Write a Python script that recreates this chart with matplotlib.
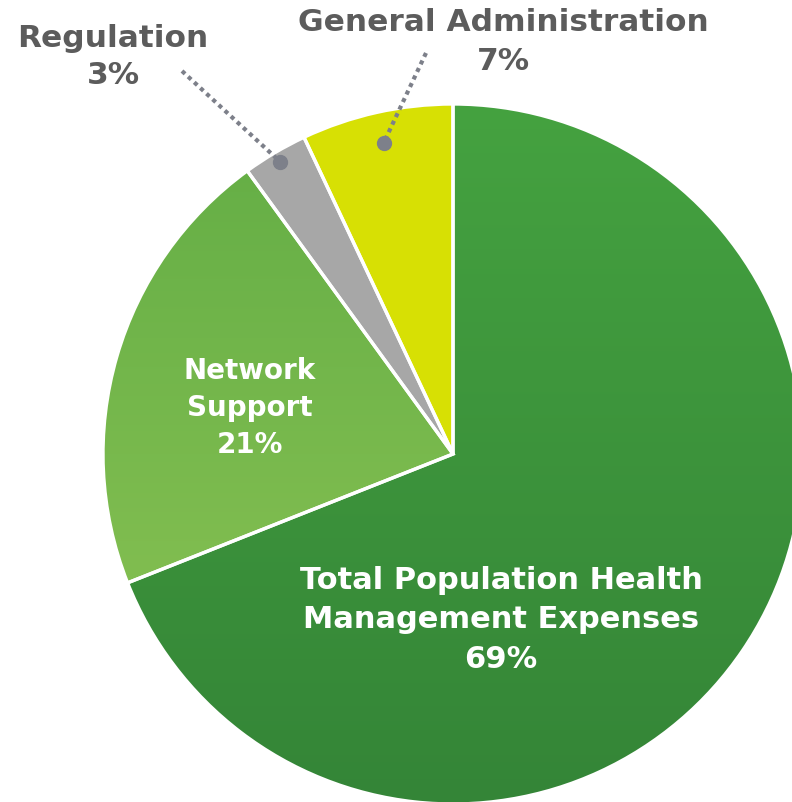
"""
Expense breakdown pie chart: population health management vs overhead.
"""

import numpy as np
import matplotlib.pyplot as plt
from matplotlib.colors import LinearSegmentedColormap

W, H = 792, 803

categories = ["Total Population Health\nManagement Expenses", "Network\nSupport",
              "Regulation", "General Administration"]
shares = [69, 21, 3, 7]
pct_labels = ["69%", "21%", "3%", "7%"]
base_colors = ["#3e963c", "#78b94e", "#a7a7a7", "#d7e004"]
# vertical gradients (top colour, bottom colour) for the two green slices
gradients = {0: ("#45a240", "#348537"), 1: ("#62ad45", "#8fc555")}

CX, CY, R = 453, H - 455, 350
TEXT_GREY = "#5c5c5c"
LEADER = "#7d808a"

plt.rcParams["font.family"] = ["DejaVu Sans"]

fig = plt.figure(figsize=(W / 100, H / 100), dpi=100)
ax = fig.add_axes([0, 0, 1, 1])

wedges, _ = ax.pie(shares, colors=base_colors, startangle=90, counterclock=False,
                   radius=R, center=(CX, CY),
                   wedgeprops=dict(linewidth=0, edgecolor="white"))

# gradient fills clipped to the green wedges
for i, (top, bottom) in gradients.items():
    cmap = LinearSegmentedColormap.from_list(f"g{i}", [bottom, top])
    grad = np.linspace(0, 1, 256).reshape(-1, 1)
    im = ax.imshow(grad, cmap=cmap, origin="lower", aspect="auto",
                   extent=(CX - R, CX + R, CY - R, CY + R), zorder=2)
    im.set_clip_path(wedges[i])

# white separators on top
ax.pie(shares, startangle=90, counterclock=False, radius=R, center=(CX, CY),
       wedgeprops=dict(fill=False, linewidth=2.4, edgecolor="white", zorder=3))

ax.set_xlim(0, W)
ax.set_ylim(0, H)
ax.set_aspect("equal")
ax.axis("off")

# labels inside the slices
ax.text(501, H - 620, f"{categories[0]}\n{pct_labels[0]}", ha="center", va="center",
        color="white", fontsize=22, fontweight="bold", linespacing=1.45, zorder=4)
ax.text(250, H - 408, f"{categories[1]}\n{pct_labels[1]}", ha="center", va="center",
        color="white", fontsize=20, fontweight="bold", linespacing=1.42, zorder=4)

# outside labels with dotted leaders
outside = [(2, (113, H - 57), (182, H - 72), 0.97, 1.36),
           (3, (503, H - 42), (426, H - 54), 0.91, 1.43)]
for idx, text_xy, line_start, frac, spacing in outside:
    w = wedges[idx]
    mid = np.deg2rad((w.theta1 + w.theta2) / 2)
    px, py = CX + frac * R * np.cos(mid), CY + frac * R * np.sin(mid)
    ax.text(*text_xy, f"{categories[idx]}\n{pct_labels[idx]}", ha="center", va="center",
            color=TEXT_GREY, fontsize=22.5, fontweight="bold", linespacing=spacing, zorder=4)
    ax.plot([line_start[0], px], [line_start[1], py], color=LEADER, linewidth=3,
            linestyle=(0, (1, 1)), zorder=4)
    ax.plot(px, py, "o", color=LEADER, markersize=10, zorder=5)

fig.savefig("out.png", dpi=100)
